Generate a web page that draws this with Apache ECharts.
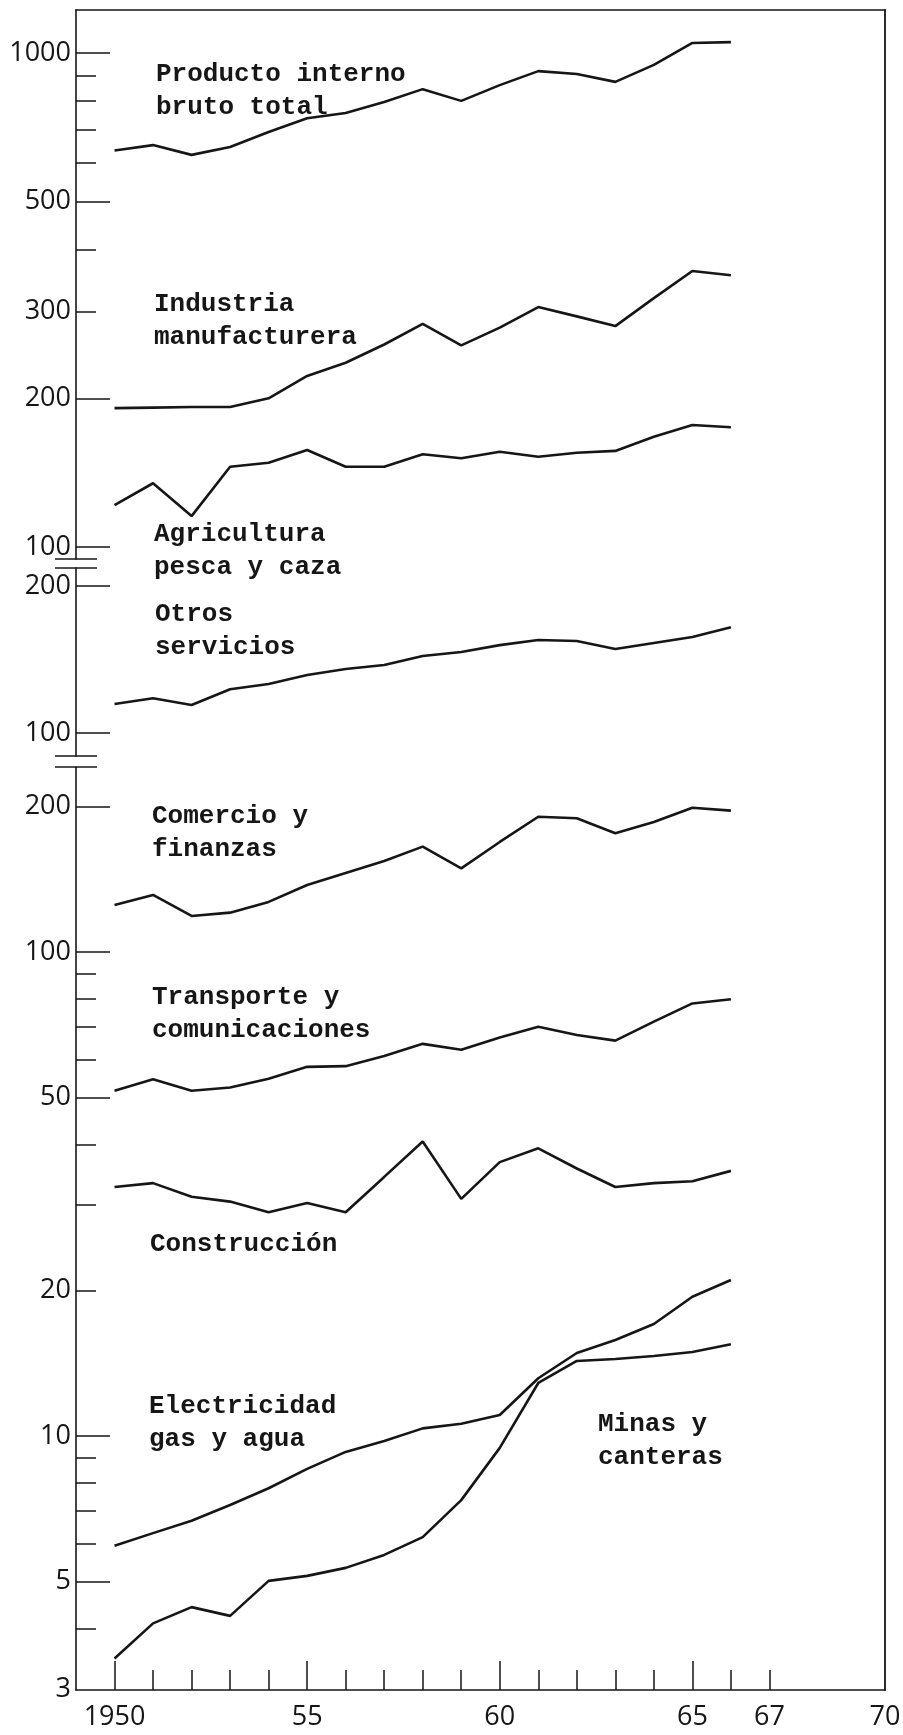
<!DOCTYPE html>
<html>
<head>
<meta charset="utf-8">
<script src="https://cdn.jsdelivr.net/npm/echarts@6/dist/echarts.min.js"></script>
<style>
  html, body { margin: 0; padding: 0; background: #fff; }
  #chart { width: 903px; height: 1735px; }
</style>
</head>
<body>
<div id="chart"></div>
<script>
// años y series (escala logarítmica)
const years = [1950, 1951, 1952, 1953, 1954, 1955, 1956, 1957, 1958, 1959, 1960, 1961, 1962, 1963, 1964, 1965, 1966]

const pib = [635, 651, 622, 645, 692, 738, 756, 796, 845, 800, 861, 919, 907, 874, 946, 1048, 1052]
const industria = [191, 191.5, 192, 192, 200, 222, 236, 257, 283, 256, 278, 306, 293, 280, 319, 362, 355]
const agricultura = [121.6, 134.6, 115.5, 145.4, 148.1, 157.2, 145.4, 145.4, 154.1, 151.2, 155.9, 152.3, 155.2, 156.5, 167.2, 176.6, 174.7]
const otros = [114.7, 117.8, 114.1, 122.9, 126, 131.5, 135.3, 137.8, 143.8, 146.6, 151.4, 155.1, 154.4, 148.6, 152.9, 157.3, 164.7]
const comercio = [125.1, 131.2, 118.7, 120.6, 126.9, 137.5, 145.6, 154.2, 165.1, 148.9, 168.8, 190.3, 188.9, 175.9, 185.6, 198.7, 195.9]
const transporte = [51.7, 54.6, 51.7, 52.5, 54.7, 57.9, 58.1, 61, 64.6, 62.8, 66.6, 70.1, 67.4, 65.6, 71.8, 78.3, 79.9]
const construccion = [32.7, 33.3, 31.2, 30.5, 29.0, 30.3, 29.0, 34.3, 40.6, 30.9, 36.8, 39.3, 35.7, 32.7, 33.3, 33.6, 35.3]
const electricidad = [5.93, 6.3, 6.68, 7.2, 7.8, 8.55, 9.27, 9.76, 10.37, 10.6, 11.05, 13.16, 14.84, 15.79, 17.04, 19.4, 21.0]
const minas = [3.47, 4.1, 4.43, 4.25, 5.02, 5.14, 5.34, 5.68, 6.18, 7.37, 9.45, 12.87, 14.29, 14.42, 14.63, 14.91, 15.47]

// etiquetas del eje x
const xMinorTicks = [1950, 1951, 1952, 1953, 1954, 1955, 1956, 1957, 1958, 1959, 1960, 1961, 1962, 1963, 1964, 1965, 1966, 1967]
const xMajorTicks = [1950, 1955, 1960, 1965]
const xLabels = [1950, 1955, 1960, 1965, 1967, 1970]

// marcas del eje y, por panel
const yLabels = [[1000, 500, 300, 200, 100], [200, 100], [200, 100, 50, 20, 10, 5, 3]]
const yLongTicks = [[1000, 500, 200, 100], [200, 100], [200, 100, 50, 10, 5]]
const yShortTicks = [[900, 800, 700, 600, 400, 300], [], [90, 80, 70, 60, 40, 30, 20, 9, 8, 7, 6, 4]]

const ink = '#161616'
const plotLeft = 76
const plotRight = 885
// cada panel: borde superior/inferior en px y un valor de referencia con su posición
const panels = [
  { top: 10, bottom: 559, refVal: 100, refY: 547, decade: 494 },
  { top: 568, bottom: 756, refVal: 100, refY: 733, decade: 488 },
  { top: 767, bottom: 1690, refVal: 10, refY: 1436, decade: 484 }
]

const series = [
  { name: 'Producto interno bruto total', panel: 0, data: pib },
  { name: 'Industria manufacturera', panel: 0, data: industria },
  { name: 'Agricultura pesca y caza', panel: 0, data: agricultura },
  { name: 'Otros servicios', panel: 1, data: otros },
  { name: 'Comercio y finanzas', panel: 2, data: comercio },
  { name: 'Transporte y comunicaciones', panel: 2, data: transporte },
  { name: 'Construcción', panel: 2, data: construccion },
  { name: 'Electricidad gas y agua', panel: 2, data: electricidad },
  { name: 'Minas y canteras', panel: 2, data: minas }
]

// textos sobre el gráfico
const notes = [
  { text: 'Producto interno\nbruto total', x: 156, y: 58 },
  { text: 'Industria\nmanufacturera', x: 154, y: 288 },
  { text: 'Agricultura\npesca y caza', x: 154, y: 518 },
  { text: 'Otros\nservicios', x: 155, y: 598 },
  { text: 'Comercio y\nfinanzas', x: 152, y: 800 },
  { text: 'Transporte y\ncomunicaciones', x: 152, y: 981 },
  { text: 'Construcción', x: 150, y: 1228 },
  { text: 'Electricidad\ngas y agua', x: 149, y: 1390 },
  { text: 'Minas y\ncanteras', x: 598, y: 1408 }
]

const tickFont = { fontFamily: '"Open Sans"', fontSize: 27, color: ink }

function logRange(p) {
  return {
    min: p.refVal * Math.pow(10, -(p.bottom - p.refY) / p.decade),
    max: p.refVal * Math.pow(10, (p.refY - p.top) / p.decade)
  }
}

const grid = panels.map(p => ({
  left: plotLeft, width: plotRight - plotLeft, top: p.top, height: p.bottom - p.top,
  containLabel: false, outerBoundsMode: 'none'
}))
// marco (borde superior y derecho)
grid.push({
  left: plotLeft, width: plotRight - plotLeft, top: panels[0].top, height: panels[2].bottom - panels[0].top,
  containLabel: false, outerBoundsMode: 'none'
})

const xAxis = []
const yAxis = []
panels.forEach((p, i) => {
  const r = logRange(p)
  const isBottom = i === panels.length - 1
  xAxis.push({
    type: 'value', gridIndex: i, position: 'bottom', min: 1949, max: 1970, show: isBottom,
    axisLine: { show: true, onZero: false, lineStyle: { color: ink, width: 1.6 } },
    axisTick: { show: true, inside: true, length: 20, customValues: xMinorTicks, lineStyle: { color: ink, width: 1.5 } },
    axisLabel: {
      show: true, margin: 14, ...tickFont, customValues: xLabels,
      formatter: v => (v === 1950 ? '1950' : String(v % 100))
    },
    splitLine: { show: false }
  })
  // eje y con marcas largas y números
  yAxis.push({
    type: 'log', logBase: 10, gridIndex: i, position: 'left', min: r.min, max: r.max,
    axisLine: { show: true, onZero: false, lineStyle: { color: ink, width: 1.6 } },
    axisTick: { show: true, inside: true, length: 34, customValues: yLongTicks[i], lineStyle: { color: ink, width: 1.5 } },
    axisLabel: { show: true, margin: 5, ...tickFont, customValues: yLabels[i], formatter: v => String(Math.round(v)) },
    splitLine: { show: false }
  })
  // eje y con marcas cortas
  yAxis.push({
    type: 'log', logBase: 10, gridIndex: i, position: 'left', min: r.min, max: r.max,
    axisLine: { show: false, onZero: false },
    axisTick: { show: yShortTicks[i].length > 0, inside: true, length: 20, customValues: yShortTicks[i], lineStyle: { color: ink, width: 1.5 } },
    axisLabel: { show: false },
    splitLine: { show: false }
  })
})
// marcas mayores del eje x (más altas)
xAxis.push({
  type: 'value', gridIndex: 2, position: 'bottom', min: 1949, max: 1970,
  axisLine: { show: false, onZero: false },
  axisTick: { show: true, inside: true, length: 29, customValues: xMajorTicks, lineStyle: { color: ink, width: 1.5 } },
  axisLabel: { show: false },
  splitLine: { show: false }
})
// marco
xAxis.push({
  type: 'value', gridIndex: 3, position: 'top', min: 0, max: 1,
  axisLine: { show: true, onZero: false, lineStyle: { color: ink, width: 1.6 } },
  axisTick: { show: false }, axisLabel: { show: false }, splitLine: { show: false }
})
yAxis.push({
  type: 'value', gridIndex: 3, position: 'right', min: 0, max: 1,
  axisLine: { show: true, onZero: false, lineStyle: { color: ink, width: 1.8 } },
  axisTick: { show: false }, axisLabel: { show: false }, splitLine: { show: false }
})

const graphic = notes.map(n => ({
  type: 'text', left: n.x, top: n.y, silent: true,
  style: {
    text: n.text, fill: ink, fontFamily: '"Liberation Mono"', fontSize: 26,
    fontWeight: 'bold', lineHeight: 33
  }
}))
// cortes del eje y
for (let i = 0; i < panels.length - 1; i++) {
  [panels[i].bottom, panels[i + 1].top].forEach(yy => {
    graphic.push({
      type: 'line', silent: true,
      shape: { x1: plotLeft - 21, y1: yy, x2: plotLeft + 21, y2: yy },
      style: { stroke: ink, lineWidth: 1.6 }
    })
  })
}

const option = {
  animation: false,
  backgroundColor: '#fff',
  grid,
  xAxis,
  yAxis,
  graphic,
  series: series.map(s => ({
    name: s.name,
    type: 'line',
    xAxisIndex: s.panel,
    yAxisIndex: s.panel * 2,
    data: years.map((y, k) => [y, s.data[k]]),
    showSymbol: false,
    symbol: 'none',
    silent: true,
    lineStyle: { color: ink, width: 2.6 }
  }))
}

const chart = echarts.init(document.getElementById('chart'), null, { renderer: 'canvas' })
chart.setOption(option)
</script>
</body>
</html>
